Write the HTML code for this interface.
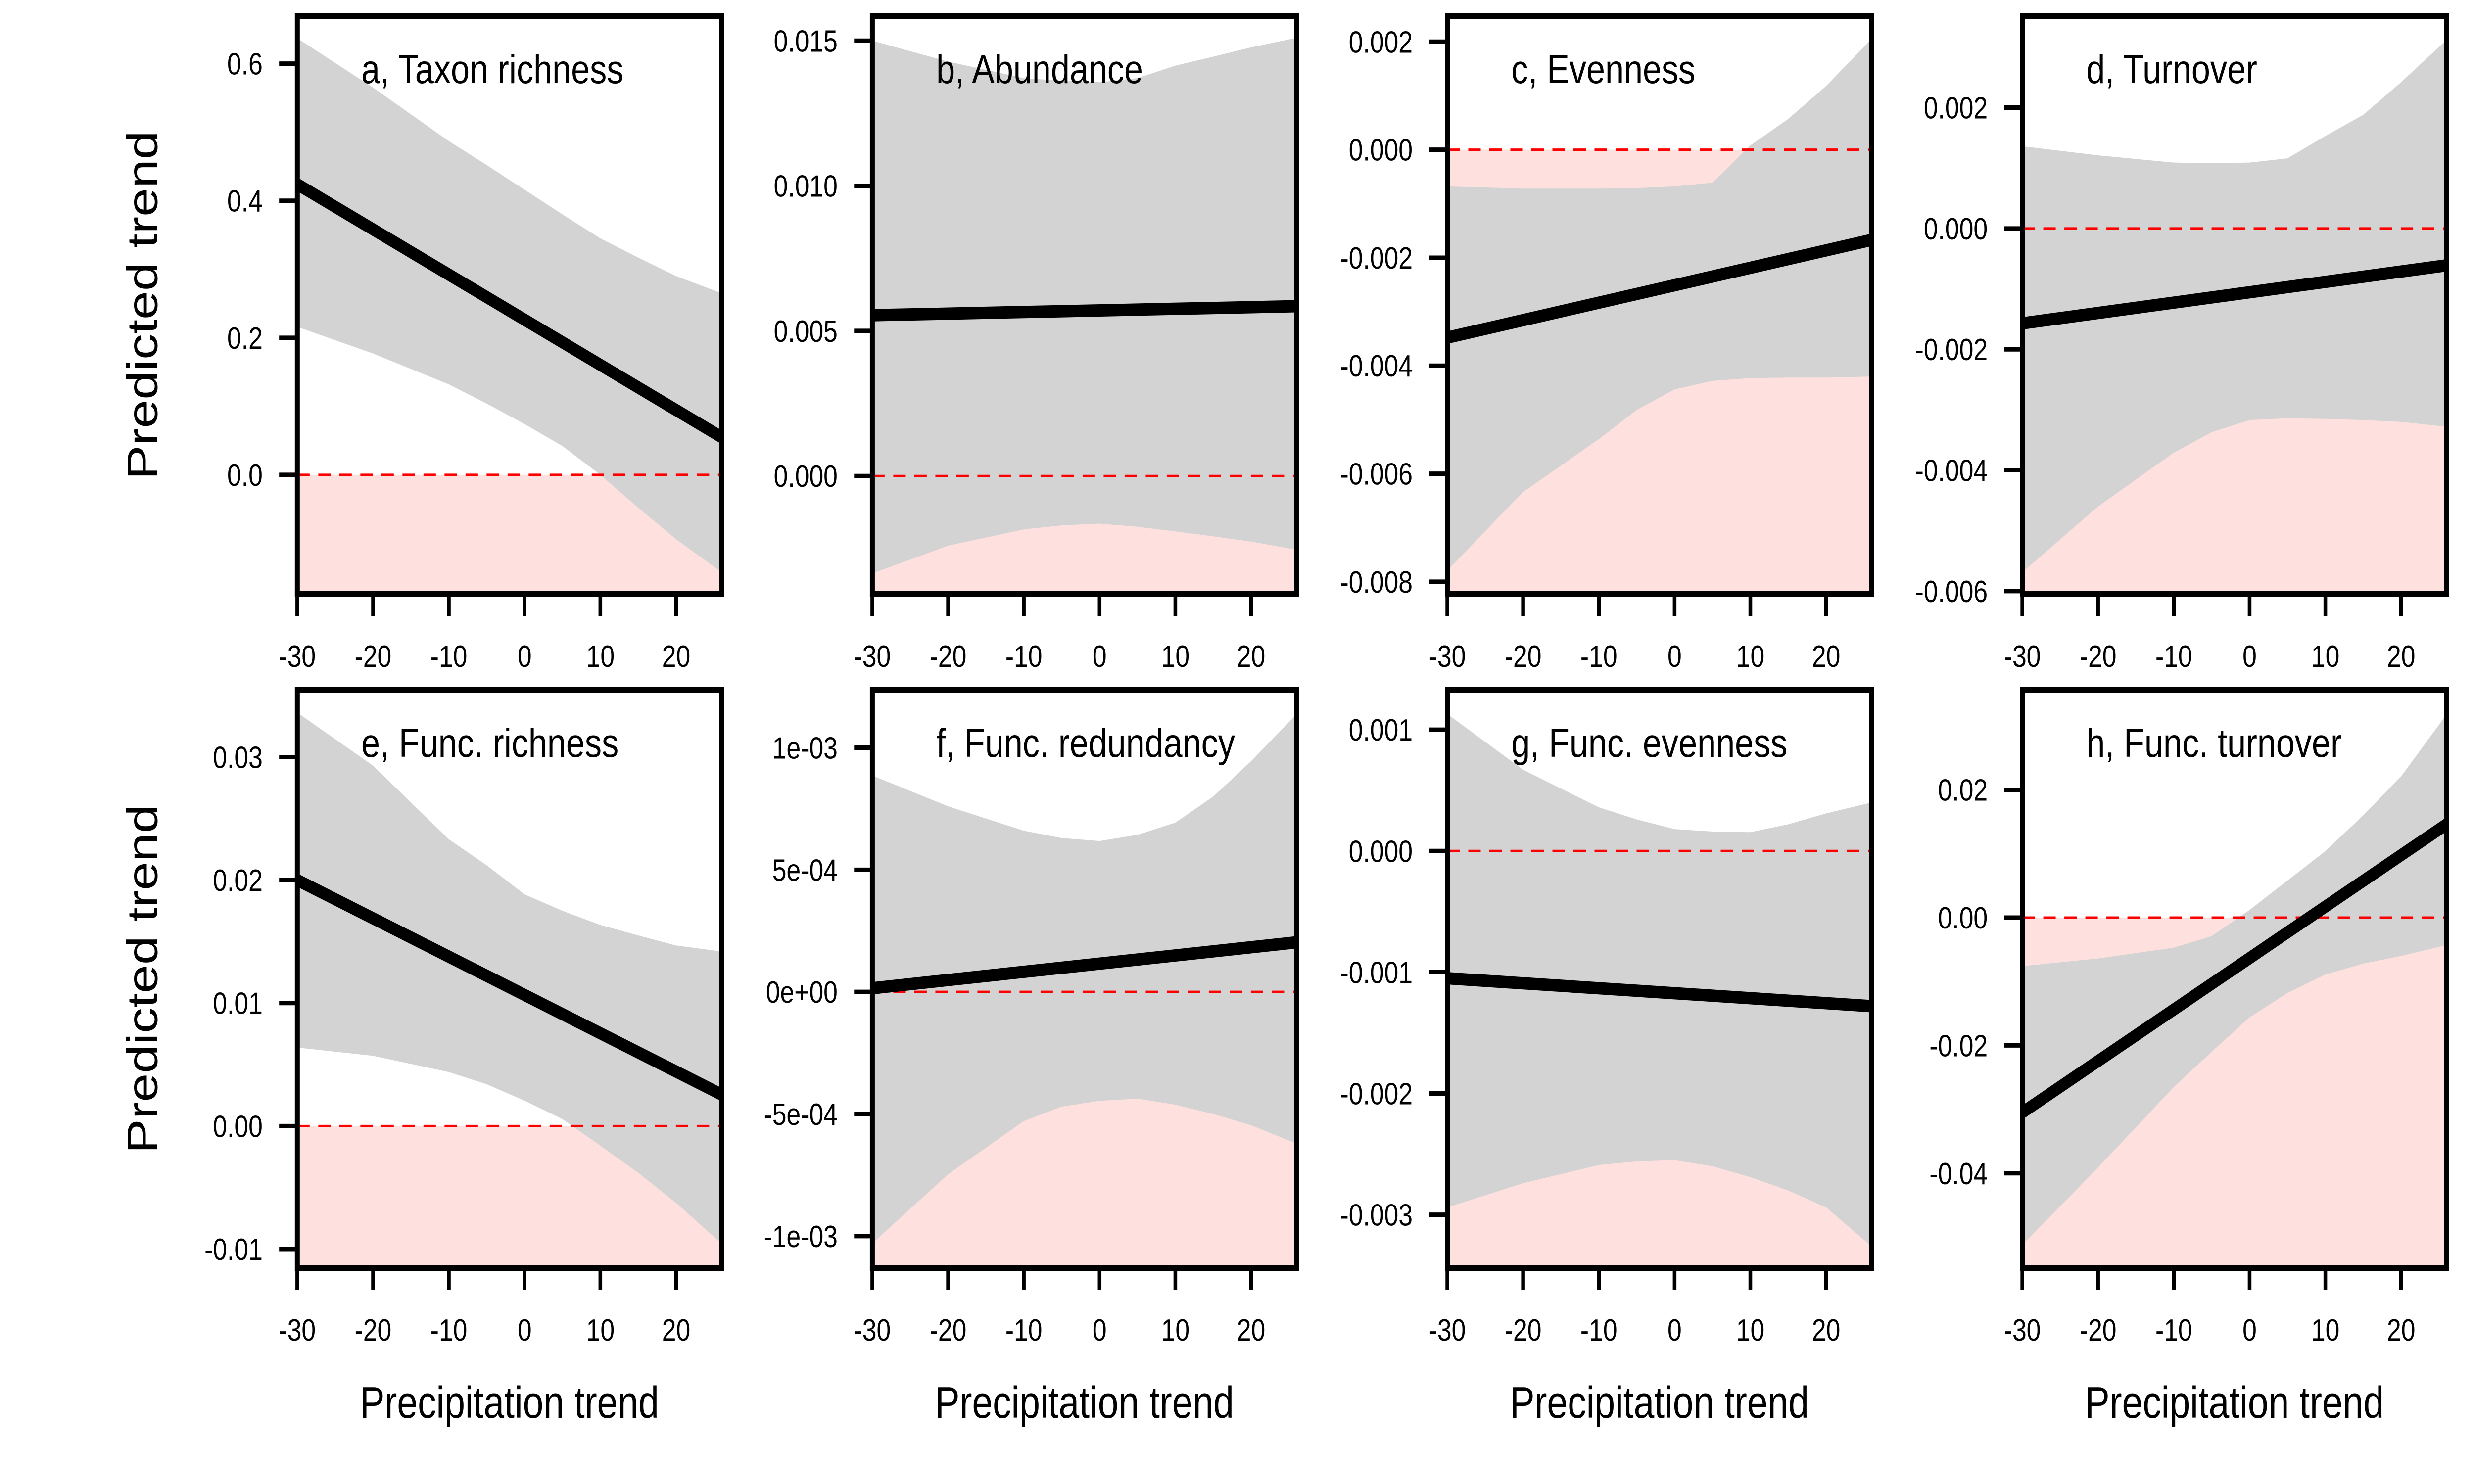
<!DOCTYPE html>
<html><head><meta charset="utf-8">
<style>
html,body{margin:0;padding:0;background:#fff;overflow:hidden;width:100%;height:100%;}
svg{display:block;font-family:"Liberation Sans",Arial,sans-serif;width:100vw;height:100vh;}
</style></head>
<body>
<svg id="chart" viewBox="0 0 6000 3000" preserveAspectRatio="none" xmlns="http://www.w3.org/2000/svg">
<rect width="6000" height="3000" fill="#fff"/>
</svg>
<script>
// ---- data ----
const titles = ["a, Taxon richness","b, Abundance","c, Evenness","d, Turnover","e, Func. richness","f, Func. redundancy","g, Func. evenness","h, Func. turnover"];
const bandX = [-30,-20,-10,-5,0,5,10,15,20,26];
const upperA = [0.637,0.565,0.487,0.452,0.416,0.38,0.345,0.317,0.29,0.265];
const lowerA = [0.216,0.177,0.132,0.104,0.074,0.042,0.0,-0.048,-0.094,-0.142];
const upperB = [0.015,0.01428,0.01371,0.01362,0.01357,0.01371,0.01414,0.01445,0.01477,0.0151];
const lowerB = [-0.00336,-0.0024,-0.00184,-0.00170,-0.00164,-0.00175,-0.00191,-0.00208,-0.00226,-0.00254];
const upperC = [-0.00068,-0.00072,-0.00072,-0.00071,-0.00068,-0.00061,0.00008,0.00057,0.00118,0.00205];
const lowerC = [-0.00779,-0.00634,-0.00536,-0.00482,-0.00444,-0.00428,-0.00423,-0.00422,-0.00422,-0.0042];
const upperD = [0.00136,0.00121,0.00109,0.00108,0.00109,0.00116,0.00153,0.00188,0.00242,0.00312];
const lowerD = [-0.00569,-0.0046,-0.00371,-0.00337,-0.00317,-0.00314,-0.00315,-0.00317,-0.0032,-0.00328];
const upperE = [0.03362,0.0293,0.02332,0.0212,0.01884,0.0175,0.01635,0.0155,0.01468,0.01419];
const lowerE = [0.00638,0.00571,0.00439,0.0034,0.00206,0.00056,-0.0016,-0.0038,-0.00625,-0.00957];
const upperF = [0.000886,0.00076,0.00066,0.00063,0.000618,0.000643,0.000693,0.0008,0.000945,0.001137];
const lowerF = [-0.00103,-0.000747,-0.000529,-0.00047,-0.000446,-0.000437,-0.000462,-0.0005,-0.000546,-0.000621];
const upperG = [0.00113,0.00067,0.00036,0.00026,0.00018,0.00016,0.000155,0.00022,0.00031,0.0004];
const lowerG = [-0.00294,-0.00274,-0.00259,-0.00256,-0.00255,-0.0026,-0.00269,-0.0028,-0.00294,-0.00326];
const upperH = [-0.0076,-0.0064,-0.0047,-0.0029,0.0012,0.0058,0.0104,0.016,0.0221,0.0318];
const lowerH = [-0.0512,-0.0391,-0.0265,-0.021,-0.0156,-0.0118,-0.0089,-0.0072,-0.006,-0.0043];
const uppers = [upperA,upperB,upperC,upperD,upperE,upperF,upperG,upperH];
const lowers = [lowerA,lowerB,lowerC,lowerD,lowerE,lowerF,lowerG,lowerH];
const fitStart = [0.424,0.00554,-0.00348,-0.00157,0.02,0.000015,-0.00105,-0.0305];
const fitEnd = [0.055,0.00585,-0.00167,-0.00061,0.00256,0.000203,-0.00128,0.0146];
const yMin = [-0.174,-0.00407,-0.00823,-0.00605,-0.01153,-0.00113,-0.003438,-0.0548];
const yMax = [0.669,0.01584,0.00247,0.00351,0.03545,0.001236,0.001327,0.0356];
const yTicksA = [0,0.2,0.4,0.6];
const yTickLabelsA = ["0.0","0.2","0.4","0.6"];
const yTicksB = [0,0.005,0.01,0.015];
const yTickLabelsB = ["0.000","0.005","0.010","0.015"];
const yTicksC = [-0.008,-0.006,-0.004,-0.002,0,0.002];
const yTickLabelsC = ["-0.008","-0.006","-0.004","-0.002","0.000","0.002"];
const yTicksD = [-0.006,-0.004,-0.002,0,0.002];
const yTickLabelsD = ["-0.006","-0.004","-0.002","0.000","0.002"];
const yTicksE = [-0.01,0,0.01,0.02,0.03];
const yTickLabelsE = ["-0.01","0.00","0.01","0.02","0.03"];
const yTicksF = [-0.001,-0.0005,0,0.0005,0.001];
const yTickLabelsF = ["-1e-03","-5e-04","0e+00","5e-04","1e-03"];
const yTicksG = [-0.003,-0.002,-0.001,0,0.001];
const yTickLabelsG = ["-0.003","-0.002","-0.001","0.000","0.001"];
const yTicksH = [-0.04,-0.02,0,0.02];
const yTickLabelsH = ["-0.04","-0.02","0.00","0.02"];
const yTicks = [yTicksA,yTicksB,yTicksC,yTicksD,yTicksE,yTicksF,yTicksG,yTicksH];
const yTickLabels = [yTickLabelsA,yTickLabelsB,yTickLabelsC,yTickLabelsD,yTickLabelsE,yTickLabelsF,yTickLabelsG,yTickLabelsH];
const xTicks = [-30,-20,-10,0,10,20];
const xTickLabels = ["-30","-20","-10","0","10","20"];
const xMin = -30, xMax = 26;

// ---- drawing ----
const NS = "http://www.w3.org/2000/svg";
const svg = document.getElementById("chart");
function mk(tag, attrs, parent){
  const e = document.createElementNS(NS, tag);
  for (const k in attrs) e.setAttribute(k, attrs[k]);
  (parent||svg).appendChild(e);
  return e;
}
const PW = 1029, PH = 1168;
const rowTop = [33, 1395];
const keys = ["a","b","c","d","e","f","g","h"];
for (let p = 0; p < 8; p++) {
  const col = p % 4, row = Math.floor(p / 4);
  const L = 721 + col * 1394.5, T = rowTop[row];
  const sx = v => L + (v - xMin) / (xMax - xMin) * PW;
  const sy = v => T + PH - (v - yMin[p]) / (yMax[p] - yMin[p]) * PH;
  const g = mk("g", {});
  
  
  const clipId = "clip" + p;
  const cp = mk("clipPath", {id: clipId}, g);
  mk("rect", {x: L, y: T, width: PW, height: PH}, cp);
  const inner = mk("g", {"clip-path": "url(#" + clipId + ")"}, g);
  const pink = mk("rect", {x: L, y: sy(0), width: PW, height: Math.max(0, T + PH - sy(0)), fill: "#fee1df"}, inner);
  
  
  const up = uppers[p], lo = lowers[p];
  let d = "";
  for (let i = 0; i < bandX.length; i++) d += (i ? "L" : "M") + sx(bandX[i]) + "," + sy(up[i]);
  for (let i = bandX.length - 1; i >= 0; i--) d += "L" + sx(bandX[i]) + "," + sy(lo[i]);
  const band = mk("path", {d: d + "Z", fill: "#d3d3d3"}, inner);
  
  
  const zl = mk("line", {x1: L, x2: L + PW, y1: sy(0), y2: sy(0), stroke: "#ff0000", "stroke-width": 5, "stroke-dasharray": "30 21"}, inner);
  
  
  const fl = mk("line", {x1: sx(xMin), x2: sx(xMax), y1: sy(fitStart[p]), y2: sy(fitEnd[p]), stroke: "#000", "stroke-width": 25}, inner);
  
  
  const box = mk("rect", {x: L, y: T, width: PW, height: PH, fill: "none", stroke: "#000", "stroke-width": 12}, g);
  
  
  const tt = mk("text", {x: L + 155, y: T + 135, "font-size": 82, fill: "#000"}, g);
  tt.textContent = titles[p];
  
  
  for (let i = 0; i < yTicks[p].length; i++) {
    const y = sy(yTicks[p][i]);
    const tk = mk("line", {x1: L - 44, x2: L, y1: y, y2: y, stroke: "#000", "stroke-width": 9}, g);
    
    
    const tl = mk("text", {x: L - 84, y: y + 22, "font-size": 62, "text-anchor": "end"}, g);
    tl.textContent = yTickLabels[p][i];
    
    
  }
  for (let i = 0; i < xTicks.length; i++) {
    const x = sx(xTicks[i]);
    const tk = mk("line", {x1: x, x2: x, y1: T + PH, y2: T + PH + 45, stroke: "#000", "stroke-width": 9}, g);
    
    
    const tl = mk("text", {x: x, y: T + PH + 147, "font-size": 62, "text-anchor": "middle"}, g);
    tl.textContent = xTickLabels[i];
    
    
  }
  if (row === 1) {
    const xt = mk("text", {x: L + PW / 2, y: 2866, "font-size": 90, "text-anchor": "middle"}, g);
    xt.textContent = "Precipitation trend";
    
    
  }
  if (col === 0) {
    const cy = T + PH / 2;
    const yt = mk("text", {x: 0, y: 0, "font-size": 104, "text-anchor": "middle", transform: "translate(381," + cy + ") rotate(-90)"}, g);
    yt.textContent = "Predicted trend";
    
    
  }
}
</script>
</body></html>
